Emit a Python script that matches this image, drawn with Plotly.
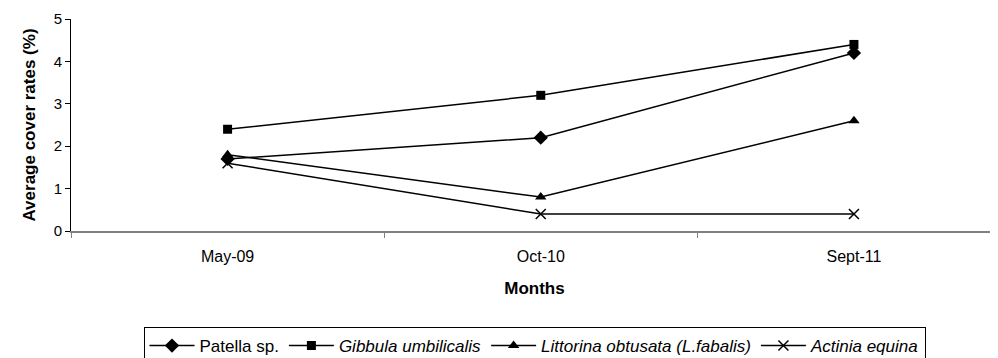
import plotly.graph_objects as go

# Data
MONTHS = ["May-09", "Oct-10", "Sept-11"]
PATELLA = [1.7, 2.2, 4.2]
GIBBULA = [2.4, 3.2, 4.4]
LITTORINA = [1.8, 0.8, 2.6]
ACTINIA = [1.6, 0.4, 0.4]

SERIES = [
    ("Patella sp.", PATELLA, "diamond", 11),
    ("<i>Gibbula umbilicalis</i>", GIBBULA, "square", 9),
    ("<i>Littorina obtusata (L.fabalis)</i>", LITTORINA, "triangle-up", 10),
    ("<i>Actinia equina</i>", ACTINIA, "x-thin", 10),
]

FONT = "Liberation Sans, Arial, sans-serif"
AXIS_GREY = "#808080"

fig = go.Figure()
for name, vals, symbol, size in SERIES:
    fig.add_trace(go.Scatter(
        x=MONTHS,
        y=vals,
        name=name,
        mode="lines+markers",
        line=dict(color="black", width=1.5),
        marker=dict(symbol=symbol, size=size, color="black",
                    line=dict(color="black", width=1.5 if symbol == "x-thin" else 0)),
    ))

# page body has an 8px margin, so the figure is sized to fit inside it
fig.update_layout(
    width=990,
    height=350,
    paper_bgcolor="white",
    plot_bgcolor="white",
    margin=dict(l=63, r=0, t=11, b=127),
    font=dict(family=FONT, size=16, color="black"),
    showlegend=True,
    legend=dict(
        orientation="h",
        xref="paper",
        yref="container",
        x=0.5,
        xanchor="center",
        y=1 - 319 / 350,
        yanchor="top",
        bordercolor="black",
        borderwidth=1,
        bgcolor="white",
        font=dict(family=FONT, size=17),
        itemwidth=45,
        tracegroupgap=0,
    ),
)

fig.update_xaxes(
    type="category",
    range=[-0.5, 2.46],
    showline=True,
    linecolor=AXIS_GREY,
    linewidth=1.5,
    ticks="outside",
    tickson="boundaries",
    ticklen=5,
    tickcolor=AXIS_GREY,
    showgrid=False,
    tickfont=dict(size=16),
    ticklabelstandoff=10,
    title=dict(text="<b>Months</b>", font=dict(size=17), standoff=18),
)

fig.update_yaxes(
    range=[0, 5],
    dtick=1,
    showline=True,
    linecolor="black",
    linewidth=1,
    ticks="outside",
    ticklen=5,
    tickcolor="black",
    showgrid=False,
    zeroline=False,
    tickfont=dict(size=15),
    title=dict(text="<b>Average cover rates (%)</b>", font=dict(size=17), standoff=13),
)

fig.write_html("out.html")
